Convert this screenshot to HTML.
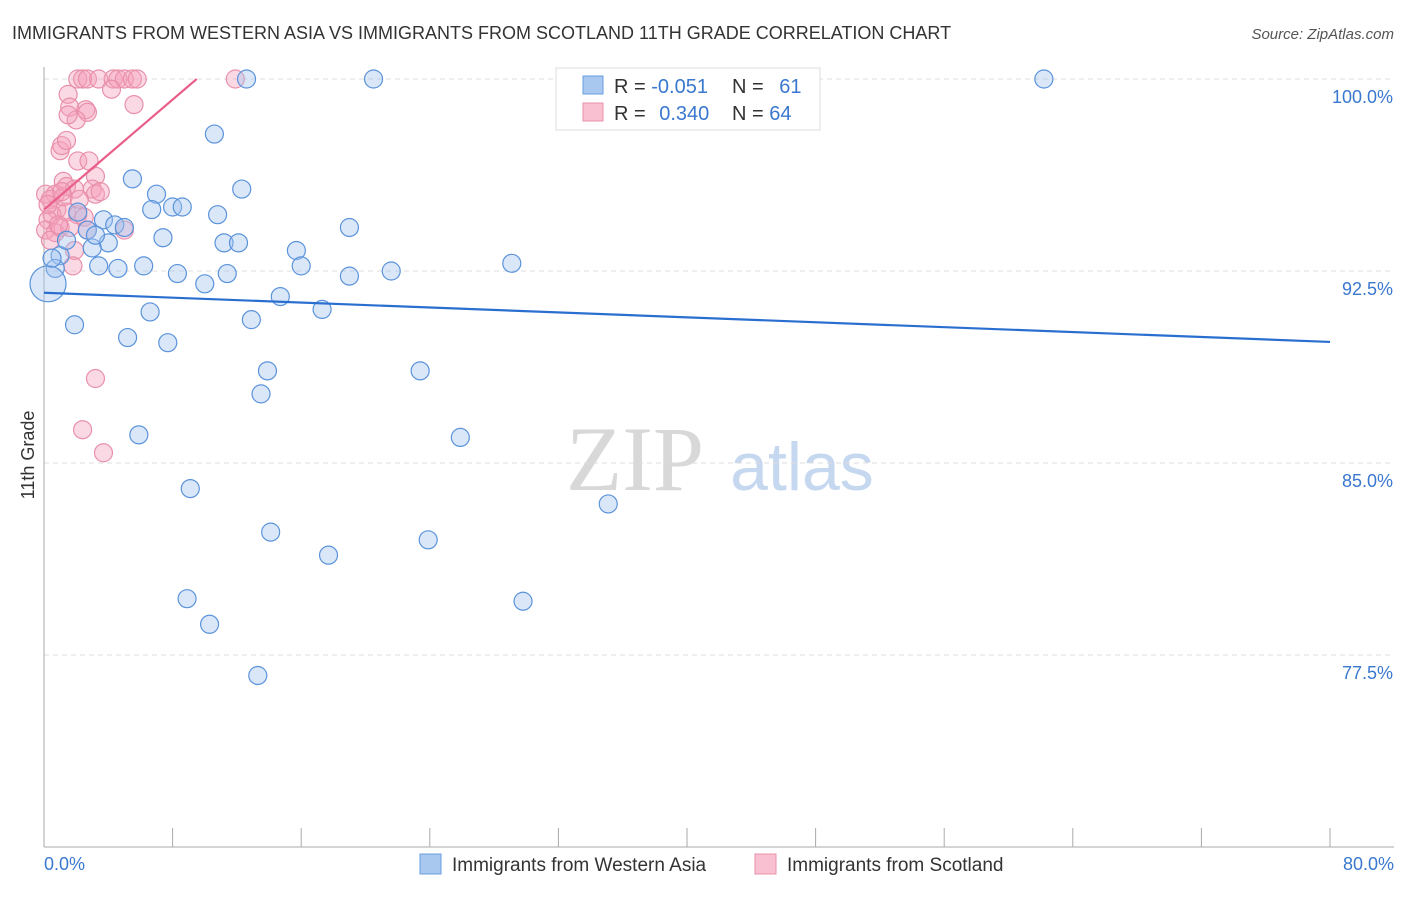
<!DOCTYPE html>
<html><head><meta charset="utf-8"><style>
body{margin:0;background:#fff;font-family:"Liberation Sans",sans-serif}
</style></head><body>
<svg width="1406" height="892" xmlns="http://www.w3.org/2000/svg" font-family="Liberation Sans, sans-serif">
<text x="12" y="39" font-size="18" fill="#333">IMMIGRANTS FROM WESTERN ASIA VS IMMIGRANTS FROM SCOTLAND 11TH GRADE CORRELATION CHART</text>
<text x="1394" y="39" font-size="15" fill="#555" font-style="italic" text-anchor="end">Source: ZipAtlas.com</text>
<g>
<text x="635" y="490" font-size="92" fill="#d8d8d8" font-family="Liberation Serif, serif" text-anchor="middle">ZIP</text>
<text x="802" y="490" font-size="68" fill="#c5d8f0" text-anchor="middle">atlas</text>
</g>
<g id="grid"></g>
<g id="axes"></g>
<g id="pts"></g>
<g id="lines"></g>
<text x="34" y="455" font-size="18" fill="#333" transform="rotate(-90 34 455)" text-anchor="middle">11th Grade</text>
<g>
<rect x="556" y="68" width="264" height="62" fill="#fff" stroke="#ddd"/>
<rect x="583" y="76" width="20" height="18" fill="#a8c8f0" stroke="#6a9ee0"/>
<rect x="583" y="103" width="20" height="18" fill="#f8c0d0" stroke="#e890aa"/>
<text x="614" y="93" font-size="20" fill="#333">R = <tspan fill="#3a78d0">-0.051</tspan></text>
<text x="732" y="93" font-size="20" fill="#333">N = <tspan fill="#3a78d0" dx="10">61</tspan></text>
<text x="614" y="120" font-size="20" fill="#333">R = <tspan fill="#3a78d0" dx="8">0.340</tspan></text>
<text x="732" y="120" font-size="20" fill="#333">N = <tspan fill="#3a78d0">64</tspan></text>
</g>
<g>
<rect x="420" y="854" width="21" height="20" fill="#a8c8f0" stroke="#6a9ee0"/>
<text x="452" y="871" font-size="19" fill="#333">Immigrants from Western Asia</text>
<rect x="755" y="854" width="21" height="20" fill="#f8c0d0" stroke="#e890aa"/>
<text x="787" y="871" font-size="19" fill="#333">Immigrants from Scotland</text>
</g>
</svg>
<script>
const blueX=[12.6,20.5,44.0,62.2,10.6,5.5,7.0,12.3,6.7,8.0,8.6,10.8,3.7,4.4,5.0,2.7,7.4,4.0,11.2,12.1,3.0,19.0,15.7,1.0,0.7,3.4,4.6,6.2,8.3,11.4,16.0,19.0,21.6,29.1,10.0,14.7,6.6,17.3,12.9,1.9,5.2,7.7,13.9,23.4,13.5,5.9,25.9,9.1,35.1,14.1,23.9,17.7,8.9,29.8,10.3,13.3,0.25,0.5,3.2,2.1,1.4];
const blueY=[100,100,100,100,97.85,96.1,95.5,95.7,94.9,95.0,95.0,94.7,94.5,94.3,94.2,94.1,93.8,93.6,93.6,93.6,93.4,94.2,93.3,93.1,92.6,92.7,92.6,92.7,92.4,92.4,92.7,92.3,92.5,92.8,92.0,91.5,90.9,91.0,90.6,90.4,89.9,89.7,88.6,88.6,87.7,86.1,86.0,84.0,83.4,82.3,82.0,81.4,79.7,79.6,78.7,76.7,92.0,93.0,93.9,94.8,93.7];
const pinkX=[2.1,2.4,2.7,3.4,4.3,4.6,5.0,5.5,5.8,11.9,4.2,5.6,1.5,1.6,2.6,2.7,2.0,1.5,1.0,1.1,1.4,2.1,2.8,3.2,1.2,1.4,1.9,3.0,0.7,0.1,0.4,0.8,0.5,0.25,1.4,2.1,2.5,0.1,0.7,1.0,1.6,2.7,5.0,0.4,1.9,1.8,3.2,2.4,3.7,1.2,3.2,3.5,0.25,0.9,1.1,2.2];
const pinkY=[100,100,100,100,100,100,100,100,100,100,99.6,99.0,99.4,98.9,98.8,98.7,98.4,98.6,97.2,97.4,97.6,96.8,96.8,96.2,96.0,95.8,95.7,95.7,95.5,95.5,95.3,94.9,94.7,94.5,94.8,94.7,94.6,94.1,94.0,94.2,94.2,94.1,94.1,93.7,93.3,92.7,88.3,86.3,85.4,95.4,95.5,95.6,95.1,94.3,95.6,95.3];
const blueTrend=[91.65,89.73];
const pinkTrend=[94.9,100,9.5];
const xTicks=[0,8,16,24,32,40,48,56,64,72,80];
const yTicks=[100,92.5,85,77.5];
const yTickLabels=["100.0%","92.5%","85.0%","77.5%"];
const X0=44,X1=1330,Y0=79;
const sx=v=>X0+v*(X1-X0)/80;
const sy=v=>Y0+(100-v)*192/7.5;
const NS="http://www.w3.org/2000/svg";
function mk(tag,attrs,parent){const e=document.createElementNS(NS,tag);for(const k in attrs)e.setAttribute(k,attrs[k]);parent.appendChild(e);return e;}
const grid=document.getElementById('grid'),axes=document.getElementById('axes'),pts=document.getElementById('pts'),lines=document.getElementById('lines');
yTicks.forEach((t,i)=>{
 const l=mk('line',{x1:X0,x2:1394,y1:sy(t),y2:sy(t),stroke:'#ddd','stroke-dasharray':'5,4'},grid);
 
 
 const tx=mk('text',{x:1393,y:sy(t)+24,'font-size':18,fill:'#3a78d0','text-anchor':'end'},axes);
 tx.textContent=yTickLabels[i];
 
 
});
const ax=mk('line',{x1:X0,x2:X0,y1:67,y2:847,stroke:'#aaa'},axes);


const bx=mk('line',{x1:X0,x2:1394,y1:847,y2:847,stroke:'#aaa'},axes);


xTicks.forEach(t=>{
 const l=mk('line',{x1:sx(t),x2:sx(t),y1:828,y2:847,stroke:'#aaa'},axes);
 
 
});
const xl0=mk('text',{x:44,y:870,'font-size':18,fill:'#3a78d0'},axes);xl0.textContent='0.0%';


const xl1=mk('text',{x:1394,y:870,'font-size':18,fill:'#3a78d0','text-anchor':'end'},axes);xl1.textContent='80.0%';


pinkX.forEach((v,i)=>{
 const c=mk('circle',{cx:sx(v),cy:sy(pinkY[i]),r:9,fill:'rgba(244,160,188,0.4)',stroke:'#e890aa','stroke-width':1.2},pts);
 
 
});
blueX.forEach((v,i)=>{
 const c=mk('circle',{cx:sx(v),cy:sy(blueY[i]),r:i==56?18:9,fill:'rgba(160,196,240,0.4)',stroke:'#5b93db','stroke-width':1.2},pts);
 
 
});
const tb=mk('line',{x1:sx(0),y1:sy(blueTrend[0]),x2:sx(80),y2:sy(blueTrend[1]),stroke:'#2a6fd0','stroke-width':2.2},lines);


const tp=mk('line',{x1:sx(0),y1:sy(pinkTrend[0]),x2:sx(pinkTrend[2]),y2:sy(pinkTrend[1]),stroke:'#e8608a','stroke-width':2.2},lines);


</script>
</body></html>
